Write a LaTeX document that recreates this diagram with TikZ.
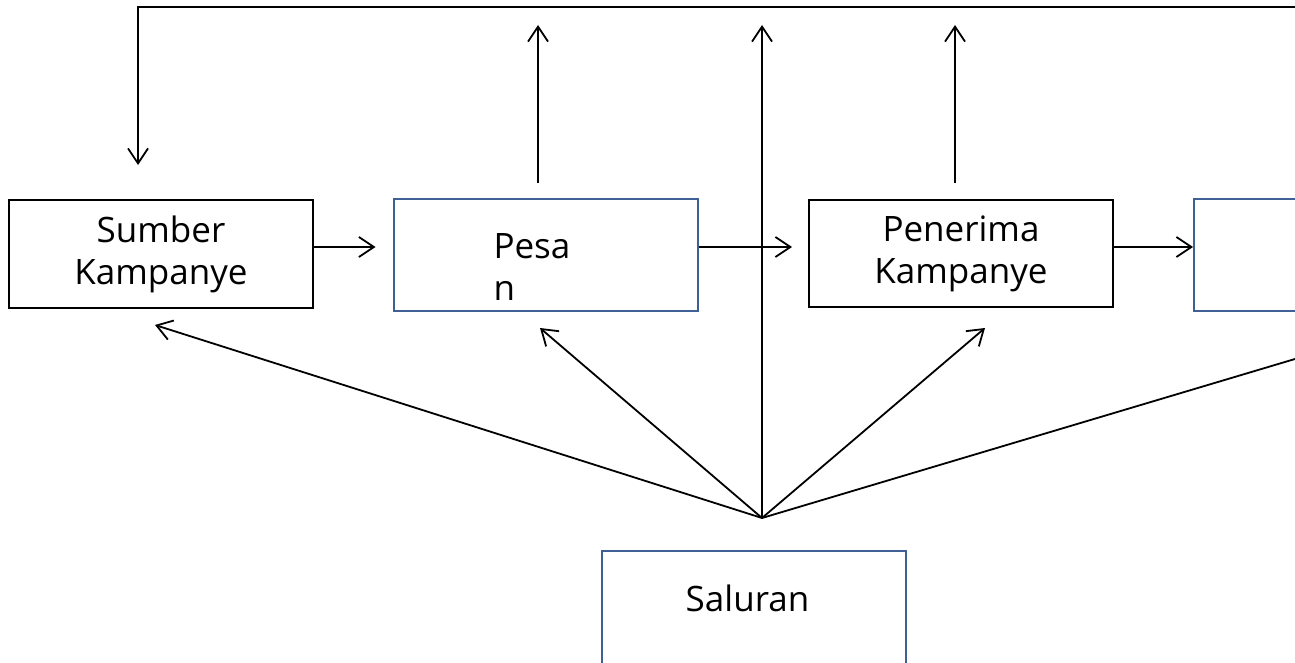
\documentclass[tikz,border=0pt]{standalone}
\usepackage{fontspec}
\setmainfont{Open Sans}
\usetikzlibrary{arrows.meta}
\definecolor{boxblue}{RGB}{62,96,148}
\tikzset{
  conn/.style={line width=1.8pt, -{Straight Barb[length=15pt,width=20pt,line width=1.8pt]}},
  plain/.style={line width=1.8pt},
  blackbox/.style={draw=black, line width=2pt, minimum width=304pt, inner sep=0pt, align=center},
  bluebox/.style={draw=boxblue, line width=2pt, minimum width=304pt, inner sep=0pt, align=center},
}
\begin{document}
\begin{tikzpicture}[x=1pt,y=-1pt, font=\fontsize{35}{42}\selectfont]
\useasboundingbox (0,0) rectangle (1295,663);
% the four stages of the campaign
\node[blackbox, minimum height=108pt] (sumber) at (161,254) {Sumber\\Kampanye};
\node[bluebox, minimum height=112pt, text width=104pt, inner xsep=100pt, align=left] (pesan) at (545.5,255) {\rule{0pt}{49pt}Pesa\\n};
\node[blackbox, minimum height=107pt] (penerima) at (961,253.5) {Penerima\\Kampanye};
\node[bluebox, minimum height=112pt] (efek) at (1346,255) {};
% the channel
\node[bluebox, minimum height=124pt] (saluran) at (753.5,613) {Saluran\hspace*{12pt}\rule[-30pt]{0pt}{30pt}};

% helper points
\coordinate (row) at (0,247);
\coordinate (hub) at (762,518);
\coordinate (topL) at (138,7);
\coordinate (topR) at (1300,7);
\coordinate (fbend) at (138,165);
\coordinate (upP0) at (538,183);
\coordinate (upP1) at (538,25);
\coordinate (upR0) at (955,183);
\coordinate (upR1) at (955,25);
\coordinate (upH1) at (762,25);
\coordinate (fanS) at (155,325);
\coordinate (fanP) at (540,328);
\coordinate (fanR) at (985,328);
\coordinate (fanE) at (1305,356);

% flow between stages
\draw[conn] (sumber.east |- row) -- ([xshift=-17pt]pesan.west |- row);
\draw[conn] (pesan.east |- row) -- ([xshift=-16pt]penerima.west |- row);
\draw[conn] (penerima.east |- row) -- (efek.west |- row);

% feedback line back to the source
\draw[conn] (topR) -- (topL) -- (fbend);

% upward arrows
\draw[conn] (upP0) -- (upP1);
\draw[conn] (upR0) -- (upR1);
\draw[conn] (hub) -- (upH1);

% fan from the channel
\draw[conn] (hub) -- (fanS);
\draw[conn] (hub) -- (fanP);
\draw[conn] (hub) -- (fanR);
\draw[plain] (hub) -- (fanE);
\end{tikzpicture}
\end{document}
